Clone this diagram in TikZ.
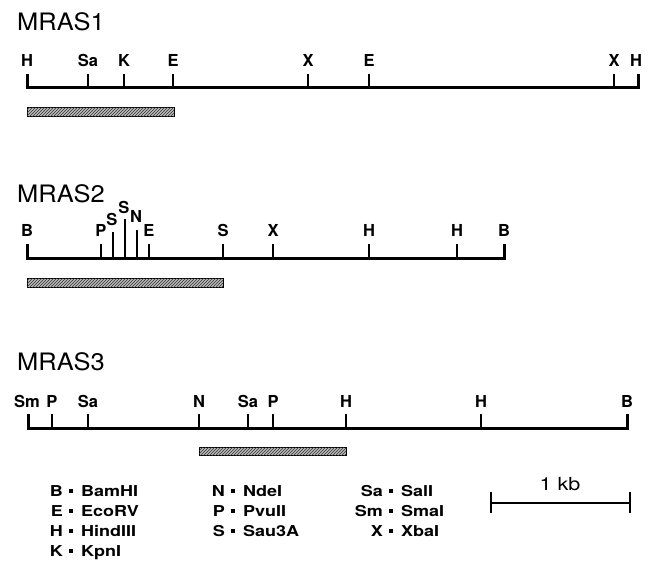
\documentclass[tikz,border=0pt]{standalone}
\usepackage{fontspec}
\usepackage{graphicx}
\setmainfont{TeX Gyre Heros}
\usetikzlibrary{patterns}
% horizontally widened text
\newcommand\hstretch[2]{\scalebox{#1}[1]{#2}}
\tikzset{
  mapline/.style={line width=3pt, line cap=butt, line join=miter},
  site/.style={line width=2.4pt},
  sitelabel/.style={font=\fontsize{16.5}{16.5}\selectfont\bfseries, inner sep=0pt, anchor=base},
  maptitle/.style={font=\fontsize{24}{24}\selectfont, inner sep=0pt, anchor=base west},
  probe/.style={draw=black, line width=0.9pt, fill=gray!55,
    postaction={pattern=north east lines, pattern color=black!80}},
  keytext/.style={font=\fontsize{15}{15}\selectfont\bfseries, inner sep=0pt},
  keymark/.style={fill=black, minimum size=4pt, inner sep=0pt, draw=none},
  scalebar/.style={line width=1.3pt},
  scaleend/.style={line width=2pt},
}
\begin{document}
\begin{tikzpicture}[x=1pt, y=-1pt]
\useasboundingbox (0,0) rectangle (650,560);

% ---------------- MRAS1 ----------------
\node[maptitle] (t1) at (17,30) {\hstretch{1.06}{MRAS1}};
\coordinate (a1) at (27,87);
\coordinate (b1) at (638,87);
\draw[mapline] (27,74) -- (a1) -- (b1) -- (638,74);
\node[sitelabel] (h1a) at (27,66) {H};
\node[sitelabel] (h1b) at (636,66) {H};
\foreach \x/\l [count=\i] in {88/Sa,124/K,173/E,308/X,369/E,614/X}{
  \coordinate (s1-\i) at (\x,87);
  \draw[site] (s1-\i) -- ++(0,-13);
  \node[sitelabel] (l1-\i) at (\x,66) {\l};
}
\draw[probe] (27,107) rectangle (174,116);

% ---------------- MRAS2 ----------------
\node[maptitle] (t2) at (17,202) {\hstretch{1.06}{MRAS2}};
\coordinate (a2) at (27,258);
\coordinate (b2) at (504,258);
\draw[mapline] (27,244) -- (a2) -- (b2) -- (504,244);
\node[sitelabel] (b2a) at (27,236) {B};
\node[sitelabel] (b2b) at (504,236) {B};
\foreach \x/\l [count=\i] in {101/P,149/E,223/S,273/X,369/H,457/H}{
  \coordinate (s2-\i) at (\x,258);
  \draw[site] (s2-\i) -- ++(0,-14);
  \node[sitelabel] (l2-\i) at (\x,236) {\l};
}
% clustered Sau3A / NdeI sites with staggered labels
\foreach \x/\top/\base/\l [count=\i] in {113/232/225/S,125/219/213/S,137/230/222/N}{
  \coordinate (c2-\i) at (\x,258);
  \draw[site] (c2-\i) -- (\x,\top);
  \node[sitelabel] (k2-\i) at (\x-1,\base) {\l};
}
\draw[probe] (27,278) rectangle (223,287);

% ---------------- MRAS3 ----------------
\node[maptitle] (t3) at (17,370) {\hstretch{1.06}{MRAS3}};
\coordinate (a3) at (28,428);
\coordinate (b3) at (627,428);
\draw[mapline] (28,414) -- (a3) -- (b3) -- (627,414);
\node[sitelabel] (sm3) at (27,407) {Sm};
\node[sitelabel] (b3b) at (627,407) {B};
\foreach \x/\l [count=\i] in {52/P,88/Sa,199/N,248/Sa,273/P,346/H,481/H}{
  \coordinate (s3-\i) at (\x,428);
  \draw[site] (s3-\i) -- ++(0,-14);
  \node[sitelabel] (l3-\i) at (\x,407) {\l};
}
\draw[probe] (199,447) rectangle (346,455);

% ---------------- key ----------------
\foreach \sep/\k/\n/\row [count=\i] in {
   71/B/BamHI/496, 71/E/EcoRV/516, 71/H/HindIII/536, 71/K/KpnI/556,
   233/N/NdeI/496, 233/P/PvuII/516, 233/S/Sau3A/536,
   391/Sa/SalI/496, 391/Sm/SmaI/516, 391/X/XbaI/536}{
  \node[keytext, anchor=base east] (key-\i) at (\sep-8,\row) {\hstretch{1.2}{\k}};
  \node[keymark] (dot-\i) at (\sep,\row-5.5) {};
  \node[keytext, anchor=base west] (enz-\i) at (\sep+10,\row) {\hstretch{1.2}{\n}};
}

% ---------------- scale bar ----------------
\coordinate (sl) at (491,503);
\coordinate (sr) at (630,503);
\draw[scalebar] (sl) -- (sr);
\draw[scaleend] (sl) ++(0,-11) -- ++(0,21);
\draw[scaleend] (sr) ++(0,-11) -- ++(0,21);
\node[font=\fontsize{18}{18}\selectfont, inner sep=0pt, anchor=base] (kb) at (560,490) {\hstretch{1.2}{1 kb}};
\end{tikzpicture}
\end{document}
